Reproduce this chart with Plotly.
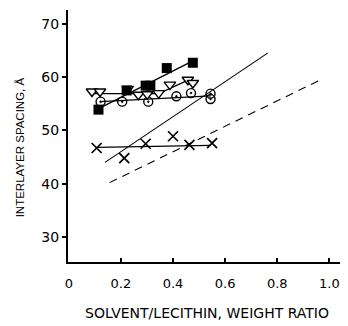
import plotly.graph_objects as go

# Data
sq_x = [0.114, 0.222, 0.295, 0.313, 0.376, 0.476]
sq_y = [53.9, 57.5, 58.4, 58.4, 61.7, 62.7]
sq_fit_x = [0.107, 0.482]
sq_fit_y = [53.9, 63.2]

tri_x = [0.089, 0.12, 0.226, 0.267, 0.301, 0.345, 0.388, 0.457, 0.476]
tri_y = [57.3, 57.3, 57.8, 56.7, 56.8, 57.0, 58.6, 59.5, 58.9]
tri_fit_x = [0.085, 0.345, 0.46]
tri_fit_y = [56.9, 56.9, 59.5]

circ_x = [0.122, 0.205, 0.305, 0.413, 0.469, 0.544, 0.544]
circ_y = [55.4, 55.4, 55.4, 56.4, 57.0, 56.9, 55.9]
circ_fit_x = [0.12, 0.545]
circ_fit_y = [55.4, 56.5]

x_x = [0.107, 0.213, 0.295, 0.40, 0.463, 0.55]
x_y = [46.7, 44.8, 47.5, 48.9, 47.3, 47.6]
x_fit_x = [0.107, 0.545]
x_fit_y = [46.8, 47.2]

solid_x = [0.139, 0.763]
solid_y = [44.0, 64.5]
dash_x = [0.157, 0.97]
dash_y = [40.2, 59.6]

x_ticks = [0, 0.2, 0.4, 0.6, 0.8, 1.0]
x_tick_text = ["0", "0.2", "0.4", "0.6", "0.8", "1.0"]
y_ticks = [30, 40, 50, 60, 70]
x_title = "SOLVENT/LECITHIN, WEIGHT RATIO"
y_title = "INTERLAYER SPACING, Å"

fig = go.Figure()
lw = 1.3
fig.add_trace(go.Scatter(x=solid_x, y=solid_y, mode="lines", line=dict(color="black", width=1.1)))
fig.add_trace(go.Scatter(x=dash_x, y=dash_y, mode="lines", line=dict(color="black", width=1.1, dash="8px,6px")))
fig.add_trace(go.Scatter(x=x_fit_x, y=x_fit_y, mode="lines", line=dict(color="black", width=lw)))
fig.add_trace(go.Scatter(x=circ_fit_x, y=circ_fit_y, mode="lines", line=dict(color="black", width=lw)))
fig.add_trace(go.Scatter(x=tri_fit_x, y=tri_fit_y, mode="lines", line=dict(color="black", width=lw)))
fig.add_trace(go.Scatter(x=sq_fit_x, y=sq_fit_y, mode="lines", line=dict(color="black", width=lw)))

fig.add_trace(go.Scatter(x=x_x, y=x_y, mode="markers",
                         marker=dict(symbol="x-thin-open", size=10, color="black",
                                     line=dict(color="black", width=1.7))))
fig.add_trace(go.Scatter(x=circ_x, y=circ_y, mode="markers",
                         marker=dict(symbol="circle-open-dot", size=9, color="black",
                                     line=dict(color="black", width=1.4))))
fig.add_trace(go.Scatter(x=tri_x, y=tri_y, mode="markers",
                         marker=dict(symbol="triangle-down", size=10, color="white",
                                     line=dict(color="black", width=1.4))))
fig.add_trace(go.Scatter(x=sq_x, y=sq_y, mode="markers",
                         marker=dict(symbol="square", size=10, color="black", line=dict(color="black", width=0))))

font = "DejaVu Sans, sans-serif"
fig.update_layout(
    width=340, height=318,
    margin=dict(l=60, r=3, t=2, b=64),
    paper_bgcolor="white", plot_bgcolor="white",
    showlegend=False,
    font=dict(family=font, color="black", size=13),
    xaxis=dict(range=[-0.003, 1.06], tickvals=x_ticks, ticktext=x_tick_text,
               automargin=False, ticklabeloverflow="allow", ticklabelstandoff=8,
               showgrid=False, zeroline=False, showline=True, linecolor="black", linewidth=2,
               ticks="inside", ticklen=4, tickwidth=1.5, tickcolor="black",
               tickfont=dict(size=13)),
    yaxis=dict(range=[25.3, 72.6], tickvals=y_ticks, automargin=False,
               showgrid=False, zeroline=False, showline=True, linecolor="black", linewidth=2,
               ticks="outside", ticklen=4, tickwidth=1.5, tickcolor="black",
               tickfont=dict(size=14)),
    annotations=[
        dict(text=x_title, xref="paper", yref="paper", x=0.5, y=0,
             xanchor="center", yanchor="middle", yshift=-51, showarrow=False,
             font=dict(size=14, family="DejaVu Sans, sans-serif")),
        dict(text=y_title, xref="paper", yref="paper", x=0, y=0.455,
             xanchor="center", yanchor="middle", xshift=-48, textangle=-90, showarrow=False,
             font=dict(size=11.5, family="Liberation Sans, Arial, sans-serif")),
    ],
)

fig.write_html("out.html")
